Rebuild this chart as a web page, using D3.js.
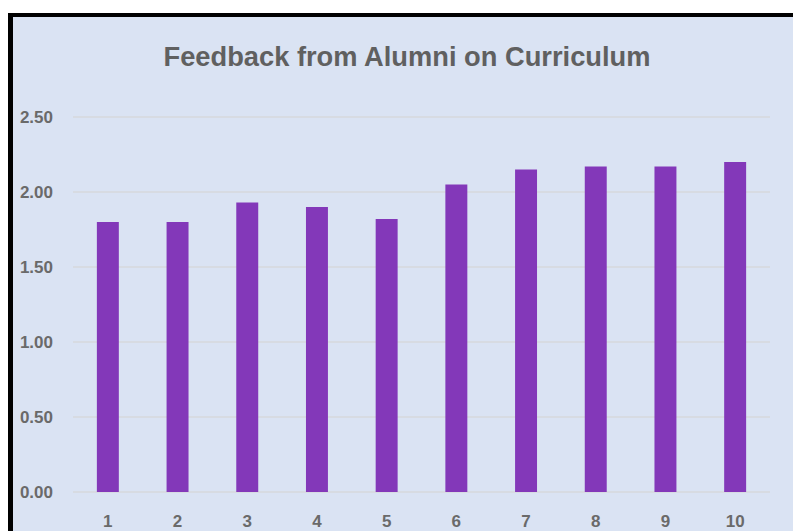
<!DOCTYPE html>
<html>
<head>
<meta charset="utf-8">
<script src="https://cdn.jsdelivr.net/npm/d3@7"></script>
<style>
  html, body { margin: 0; padding: 0; background: #fff; }
  svg { display: block; }
</style>
</head>
<body>
<div id="chart"></div>
<script>
// Chart data
const categories = ['1', '2', '3', '4', '5', '6', '7', '8', '9', '10'];
const scores = [1.80, 1.80, 1.93, 1.90, 1.82, 2.05, 2.15, 2.17, 2.17, 2.20];
const yTicks = [0, 0.5, 1.0, 1.5, 2.0, 2.5];
const chartTitle = 'Feedback from Alumni on Curriculum';

const W = 793, H = 531;
const plot = { left: 73, right: 770, top: 117, bottom: 492 };

const svg = d3.select('#chart')
    .append('svg')
    .attr('width', W)
    .attr('height', H);

// black frame (only top / left visible, the rest runs off the picture)
svg.append('rect')
    .attr('x', 8).attr('y', 13)
    .attr('width', W).attr('height', H)
    .attr('fill', '#000');
svg.append('rect')
    .attr('x', 13).attr('y', 17)
    .attr('width', W).attr('height', H)
    .attr('fill', '#dae3f3');

// title
svg.append('text')
    .attr('x', 407)
    .attr('y', 66)
    .attr('text-anchor', 'middle')
    .attr('textLength', 487)
    .attr('lengthAdjust', 'spacingAndGlyphs')
    .style('font-family', '"Liberation Sans", Arial, sans-serif')
    .style('font-size', '27px')
    .style('font-weight', 'bold')
    .attr('fill', '#606060')
    .text(chartTitle);

// scales
const x = d3.scaleBand()
    .domain(categories)
    .range([plot.left, plot.right])
    .paddingInner(0.685)
    .paddingOuter(0.3425);

const y = d3.scaleLinear()
    .domain([0, 2.5])
    .range([plot.bottom, plot.top]);

// gridlines
svg.append('g')
    .selectAll('line')
    .data(yTicks)
    .enter()
    .append('line')
    .attr('x1', plot.left)
    .attr('x2', plot.right)
    .attr('y1', d => y(d))
    .attr('y2', d => y(d))
    .attr('stroke', '#d6d9dc')
    .attr('stroke-width', 1.5);

// y labels
svg.append('g')
    .selectAll('text')
    .data(yTicks)
    .enter()
    .append('text')
    .attr('x', 53)
    .attr('y', d => y(d))
    .attr('dy', '0.35em')
    .attr('text-anchor', 'end')
    .style('font-family', '"Liberation Sans", Arial, sans-serif')
    .style('font-size', '17px')
    .style('font-weight', 'bold')
    .attr('fill', '#6a6a6a')
    .text(d => d3.format('.2f')(d));

// bars
svg.append('g')
    .selectAll('rect')
    .data(scores)
    .enter()
    .append('rect')
    .attr('x', (d, i) => x(categories[i]))
    .attr('width', x.bandwidth())
    .attr('y', d => y(d))
    .attr('height', d => y(0) - y(d))
    .attr('fill', '#8338b9');

// x labels
svg.append('g')
    .selectAll('text')
    .data(categories)
    .enter()
    .append('text')
    .attr('x', d => x(d) + x.bandwidth() / 2)
    .attr('y', 527)
    .attr('text-anchor', 'middle')
    .style('font-family', '"Liberation Sans", Arial, sans-serif')
    .style('font-size', '17px')
    .style('font-weight', 'bold')
    .attr('fill', '#6a6a6a')
    .text(d => d);
</script>
</body>
</html>
